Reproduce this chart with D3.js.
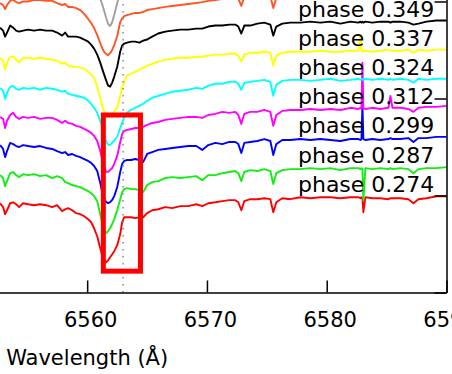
<!DOCTYPE html>
<html>
<head>
<meta charset="utf-8">
<script src="https://cdn.jsdelivr.net/npm/d3@7"></script>
<style>
  html, body { margin: 0; padding: 0; background: #fff; }
  svg { display: block; font-family: "DejaVu Sans", sans-serif; }
</style>
</head>
<body>
<div id="chart"></div>
<script>
// wavelength grid (Angstrom)
const wavelength = [
  6552.73, 6552.98, 6553.15, 6553.31, 6553.57, 6553.82, 6554.07, 6554.32, 6554.65, 6555.07,
  6555.57, 6556.07, 6556.57, 6557.08, 6557.49, 6557.91, 6558.16, 6558.41, 6558.75, 6559.08,
  6559.41, 6559.75, 6560.08, 6560.33, 6560.58, 6560.84, 6561.09, 6561.25, 6561.42, 6561.59,
  6561.75, 6561.92, 6562.09, 6562.26, 6562.51, 6562.76, 6562.92, 6563.09, 6563.34, 6563.68,
  6564.01, 6564.35, 6564.68, 6565.01, 6565.43, 6565.93, 6566.52, 6567.10, 6567.77, 6568.44,
  6569.11, 6569.61, 6570.11, 6570.70, 6571.28, 6571.87, 6572.37, 6572.62, 6572.87, 6573.12,
  6573.62, 6574.21, 6574.79, 6575.29, 6575.54, 6575.79, 6576.29, 6576.96, 6577.80, 6578.63,
  6579.47, 6580.30, 6581.14, 6581.98, 6582.65, 6582.81, 6582.90, 6582.98, 6583.06, 6583.23,
  6583.81, 6584.48, 6585.15, 6585.32, 6585.49, 6586.15, 6586.82, 6587.24, 6587.66, 6588.33,
  6589.16, 6590.00
];

// normalised flux of each spectrum, bottom to top
const flux0274 = [
  1.010, 0.990, 0.954, 0.974, 1.010, 1.015, 1.005, 0.990, 1.010, 1.005,
  1.000, 1.005, 1.000, 0.990, 1.000, 0.969, 0.979, 0.985, 0.974, 0.959,
  0.954, 0.943, 0.928, 0.912, 0.881, 0.840, 0.778, 0.742, 0.716, 0.706,
  0.716, 0.732, 0.747, 0.763, 0.794, 0.851, 0.912, 0.938, 0.938, 0.938,
  0.933, 0.938, 0.938, 0.959, 0.974, 0.979, 0.990, 0.985, 0.995, 0.995,
  1.005, 0.995, 1.010, 1.015, 1.021, 1.026, 1.026, 1.015, 0.974, 1.021,
  1.031, 1.031, 1.036, 1.031, 0.964, 1.015, 1.036, 1.031, 1.041, 1.036,
  1.041, 1.041, 1.036, 1.041, 1.041, 1.036, 1.041, 1.036, 0.964, 1.041,
  1.036, 1.036, 1.031, 1.036, 1.036, 1.036, 1.031, 1.010, 1.031, 1.036,
  1.046, 1.046
];
const flux0287 = [
  1.005, 0.990, 0.948, 0.974, 1.015, 1.021, 1.005, 0.995, 1.010, 1.005,
  1.010, 1.000, 1.005, 0.990, 1.000, 0.990, 0.969, 0.964, 0.954, 0.948,
  0.943, 0.933, 0.923, 0.912, 0.897, 0.871, 0.804, 0.758, 0.722, 0.706,
  0.716, 0.732, 0.753, 0.778, 0.825, 0.881, 0.918, 0.933, 0.938, 0.933,
  0.933, 0.928, 0.918, 0.954, 0.969, 0.974, 0.990, 0.995, 0.990, 0.995,
  1.000, 0.979, 1.005, 1.005, 1.015, 1.021, 1.026, 1.015, 0.974, 1.021,
  1.031, 1.026, 1.036, 1.026, 0.959, 1.015, 1.031, 1.036, 1.036, 1.041,
  1.036, 1.041, 1.031, 1.041, 1.041, 1.036, 1.041, 1.036, 0.876, 1.041,
  1.036, 1.041, 1.036, 1.041, 1.036, 1.041, 1.036, 1.015, 1.036, 1.041,
  1.041, 1.046
];
const flux0299 = [
  1.010, 0.990, 0.948, 0.979, 1.021, 1.015, 1.005, 1.000, 1.010, 1.005,
  1.000, 1.005, 0.995, 0.990, 0.979, 0.969, 0.974, 0.959, 0.964, 0.954,
  0.948, 0.938, 0.928, 0.918, 0.902, 0.876, 0.814, 0.768, 0.732, 0.716,
  0.711, 0.716, 0.727, 0.747, 0.794, 0.871, 0.912, 0.928, 0.933, 0.933,
  0.938, 0.933, 0.923, 0.964, 0.974, 0.985, 0.990, 0.995, 1.000, 1.005,
  1.005, 0.985, 1.010, 1.021, 1.015, 1.026, 1.026, 1.015, 0.969, 1.021,
  1.026, 1.031, 1.041, 1.031, 0.959, 1.015, 1.036, 1.036, 1.041, 1.036,
  1.041, 1.036, 1.031, 1.041, 1.041, 1.036, 1.041, 1.216, 1.041, 1.036,
  1.041, 1.036, 1.041, 1.046, 1.041, 1.041, 1.046, 1.026, 1.046, 1.046,
  1.052, 1.052
];
const flux0312 = [
  1.005, 0.995, 0.948, 0.985, 1.015, 1.026, 1.005, 0.995, 1.005, 1.000,
  1.005, 0.995, 1.000, 1.000, 0.990, 0.974, 0.985, 0.974, 0.969, 0.959,
  0.954, 0.943, 0.933, 0.923, 0.907, 0.881, 0.830, 0.789, 0.747, 0.722,
  0.722, 0.732, 0.742, 0.763, 0.804, 0.876, 0.918, 0.933, 0.938, 0.943,
  0.948, 0.948, 0.954, 0.964, 0.974, 0.979, 0.990, 0.995, 1.000, 1.005,
  1.005, 1.000, 1.015, 1.021, 1.031, 1.026, 1.031, 1.015, 0.969, 1.021,
  1.031, 1.031, 1.041, 1.031, 0.959, 1.015, 1.036, 1.041, 1.041, 1.046,
  1.041, 1.046, 1.041, 1.052, 1.046, 1.052, 1.046, 1.284, 1.052, 1.046,
  1.052, 1.046, 1.052, 1.113, 1.052, 1.052, 1.046, 1.031, 1.052, 1.057,
  1.057, 1.062
];
const flux0324 = [
  1.005, 0.990, 0.948, 0.979, 1.010, 1.015, 1.000, 0.995, 1.005, 1.000,
  1.005, 0.995, 1.005, 1.000, 0.995, 0.985, 0.990, 0.974, 0.969, 0.964,
  0.959, 0.954, 0.938, 0.923, 0.902, 0.876, 0.835, 0.804, 0.763, 0.727,
  0.711, 0.711, 0.722, 0.732, 0.753, 0.799, 0.825, 0.851, 0.876, 0.892,
  0.902, 0.912, 0.923, 0.938, 0.954, 0.964, 0.974, 0.985, 0.990, 0.995,
  1.005, 1.000, 1.015, 1.026, 1.026, 1.036, 1.036, 1.026, 0.995, 1.031,
  1.036, 1.041, 1.046, 1.036, 0.964, 1.021, 1.041, 1.046, 1.046, 1.041,
  1.046, 1.052, 1.041, 1.046, 1.052, 1.046, 1.046, 1.052, 1.046, 1.052,
  1.046, 1.052, 1.046, 1.052, 1.046, 1.052, 1.046, 1.031, 1.052, 1.046,
  1.052, 1.052
];
const flux0337 = [
  1.010, 0.995, 0.948, 0.985, 1.015, 1.015, 1.000, 0.985, 1.010, 1.010,
  1.005, 1.010, 1.005, 1.000, 0.995, 0.979, 0.985, 0.969, 0.964, 0.964,
  0.959, 0.954, 0.938, 0.923, 0.907, 0.861, 0.804, 0.763, 0.732, 0.711,
  0.706, 0.706, 0.716, 0.732, 0.753, 0.814, 0.856, 0.887, 0.918, 0.928,
  0.938, 0.948, 0.959, 0.969, 0.979, 0.990, 1.000, 1.005, 1.010, 1.010,
  1.015, 1.015, 1.021, 1.026, 1.026, 1.031, 1.031, 1.021, 0.990, 1.026,
  1.036, 1.036, 1.041, 1.036, 0.969, 1.021, 1.036, 1.041, 1.041, 1.041,
  1.046, 1.041, 1.041, 1.046, 1.046, 1.129, 1.046, 1.041, 1.046, 1.046,
  1.041, 1.046, 1.052, 1.046, 1.046, 1.046, 1.052, 1.036, 1.052, 1.046,
  1.052, 1.052
];
const flux0349 = [
  1.015, 1.000, 0.969, 0.990, 1.026, 1.015, 1.000, 0.995, 1.000, 1.005,
  1.000, 1.005, 1.000, 1.000, 0.990, 0.974, 0.990, 0.969, 0.969, 0.969,
  0.964, 0.954, 0.943, 0.928, 0.907, 0.876, 0.835, 0.804, 0.773, 0.742,
  0.716, 0.711, 0.732, 0.763, 0.814, 0.892, 0.923, 0.933, 0.938, 0.943,
  0.943, 0.938, 0.948, 0.954, 0.969, 0.985, 0.995, 1.000, 1.005, 1.005,
  1.010, 1.010, 1.021, 1.026, 1.026, 1.031, 1.031, 1.021, 0.985, 1.026,
  1.026, 1.036, 1.041, 1.031, 0.974, 1.021, 1.036, 1.041, 1.041, 1.046,
  1.041, 1.046, 1.036, 1.046, 1.041, 1.046, 1.041, 1.046, 1.041, 1.046,
  1.041, 1.046, 1.046, 1.041, 1.046, 1.046, 1.041, 1.031, 1.036, 1.046,
  1.052, 1.052
];
const fluxOrange = [
  0.992, 0.982, 0.961, 0.982, 1.003, 1.008, 0.997, 0.992, 1.000, 1.000,
  1.008, 1.008, 1.003, 1.003, 0.992, 0.982, 0.987, 0.972, 0.972, 0.966,
  0.956, 0.936, 0.910, 0.889, 0.863, 0.827, 0.786, 0.760, 0.740, 0.729,
  0.724, 0.734, 0.750, 0.776, 0.822, 0.895, 0.912, 0.925, 0.930, 0.936,
  0.941, 0.941, 0.946, 0.956, 0.961, 0.966, 0.972, 0.977, 0.982, 0.987,
  0.992, 0.997, 1.003, 1.008, 1.013, 1.018, 1.023, 1.013, 0.977, 1.023,
  1.028, 1.028, 1.034, 1.028, 0.966, 1.018, 1.034, 1.039, 1.039, 1.044,
  1.039, 1.044, 1.039, 1.044, 1.049, 1.044, 1.049, 1.044, 1.049, 1.044,
  1.049, 1.044, 1.049, 1.044, 1.049, 1.054, 1.049, 1.034, 1.049, 1.054,
  1.054, 1.059
];
const fluxGray = [
  0.995, 0.985, 0.959, 0.980, 1.005, 1.010, 1.000, 0.990, 1.000, 1.005,
  1.005, 1.000, 1.005, 1.000, 0.995, 0.985, 0.990, 0.980, 0.987, 0.982,
  0.977, 0.971, 0.961, 0.951, 0.935, 0.904, 0.863, 0.837, 0.801, 0.765,
  0.734, 0.724, 0.744, 0.780, 0.842, 0.899, 0.920, 0.930, 0.940, 0.946,
  0.951, 0.956, 0.961, 0.966, 0.972, 0.977, 0.982, 0.987, 0.992, 0.997,
  1.003, 1.008, 1.013, 1.018, 1.023, 1.028, 1.031, 1.023, 0.990, 1.028,
  1.034, 1.036, 1.039, 1.034, 0.977, 1.026, 1.039, 1.044, 1.044, 1.049,
  1.044, 1.049, 1.044, 1.049, 1.052, 1.049, 1.052, 1.049, 1.052, 1.049,
  1.052, 1.049, 1.054, 1.049, 1.052, 1.057, 1.052, 1.039, 1.054, 1.057,
  1.057, 1.062
];

const offsets = [0.45, 0.60, 0.75, 0.90, 1.05, 1.20, 1.35, 1.50, 1.65];
const phases = ["0.274", "0.287", "0.299", "0.312", "0.324", "0.337", "0.349"];
const colors = ["#ff0000", "#11ee11", "#0000ff", "#ff00ff", "#00ffff", "#ffff00", "#000000", "#ff5522", "#a0a0a0"];
const allFlux = [flux0274, flux0287, flux0299, flux0312, flux0324, flux0337, flux0349, fluxOrange, fluxGray];

const xTicks = [6560, 6570, 6580, 6590];
const yTicks = [1.0, 1.5, 2.0, 2.5];
const restWavelength = 6563.0;
const boxWave = [6561.35, 6564.45];
const boxFlux = [1.11, 1.915];
const labelWave = 6577.6;

const width = 452, height = 374;

const svg = d3.select("#chart").append("svg")
    .attr("width", width)
    .attr("height", height)
    .style("overflow", "hidden");

const x = d3.scaleLinear().domain([6545, 6590]).range([-92.5, 446.5]);
const y = d3.scaleLinear().domain([1.0, 2.6]).range([292.5, 292.5 - 1.6 * 194]);

const line = d3.line()
    .x((d, i) => x(wavelength[i]))
    .y(d => d);

// spectra, bottom first
allFlux.forEach((flux, k) => {
    svg.append("path")
        .attr("d", line(flux.map(f => y(f + offsets[k]))))
        .attr("fill", "none")
        .attr("stroke", colors[k])
        .attr("stroke-width", 1.9)
        .attr("stroke-linejoin", "round");
});

// rest wavelength marker
svg.append("line")
    .attr("x1", x(restWavelength)).attr("x2", x(restWavelength))
    .attr("y1", y(1.0)).attr("y2", y(2.6))
    .attr("stroke", "#888")
    .attr("stroke-width", 1.5)
    .attr("stroke-dasharray", "1.5,5.5");

// highlight box
svg.append("rect")
    .attr("x", x(boxWave[0]))
    .attr("y", y(boxFlux[1]))
    .attr("width", x(boxWave[1]) - x(boxWave[0]))
    .attr("height", y(boxFlux[0]) - y(boxFlux[1]))
    .attr("fill", "none")
    .attr("stroke", "#ff0000")
    .attr("stroke-width", 5);

// phase labels
svg.selectAll(".phase")
    .data(phases)
    .enter()
    .append("text")
    .attr("class", "phase")
    .attr("x", x(labelWave))
    .attr("y", (d, i) => y(1 + offsets[i] + 0.07))
    .attr("font-size", "22px")
    .attr("fill", "#000")
    .text(d => "phase " + d);

// axes
const xAxis = svg.append("g")
    .attr("transform", "translate(0,292.5)")
    .call(d3.axisBottom(x).tickValues(xTicks).tickFormat(d3.format("d"))
        .tickSizeInner(-12).tickSizeOuter(0).tickPadding(20));
xAxis.selectAll("text")
    .attr("font-size", "21px")
    .attr("font-family", "DejaVu Sans")
    .attr("dx", 3)
    .attr("fill", "#000");

const yAxis = svg.append("g")
    .attr("transform", "translate(446.5,0)")
    .call(d3.axisRight(y).tickValues(yTicks).tickFormat("")
        .tickSizeInner(-12).tickSizeOuter(0));

svg.selectAll(".domain, .tick line")
    .attr("stroke", "#000")
    .attr("stroke-width", 1.5);

svg.append("text")
    .attr("x", x(6560))
    .attr("y", 365)
    .attr("text-anchor", "middle")
    .attr("font-size", "21px")
    .attr("fill", "#000")
    .text("Wavelength (Å)");
</script>
</body>
</html>
